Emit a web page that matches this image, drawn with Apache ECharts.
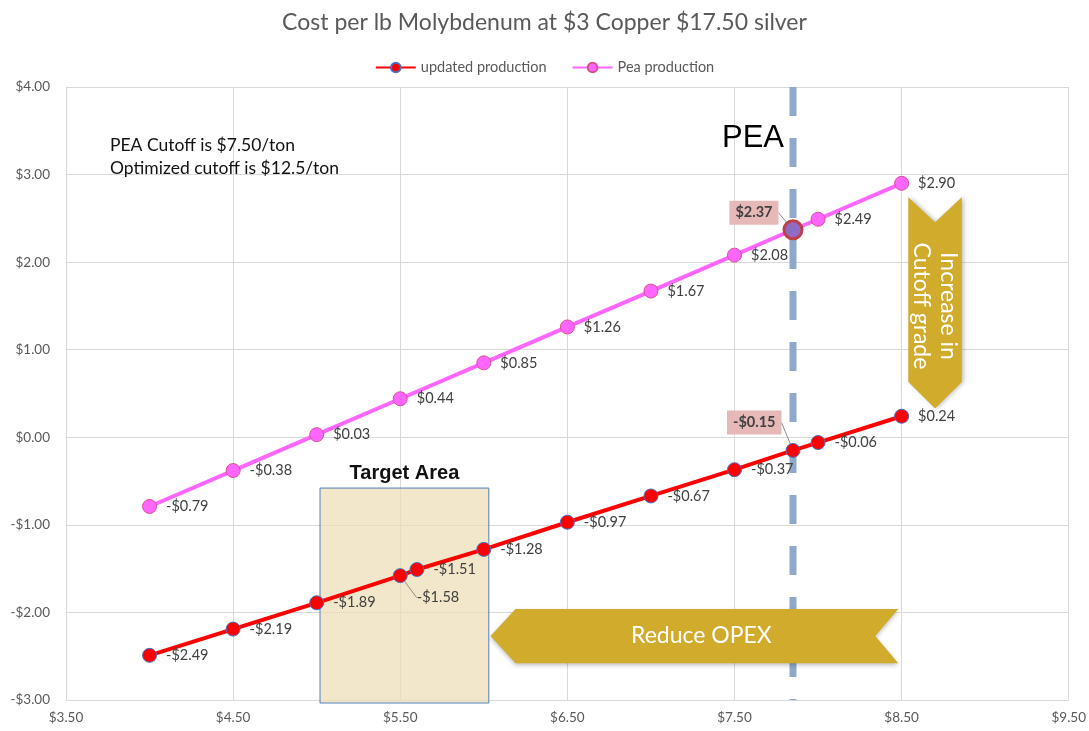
<!DOCTYPE html>
<html>
<head>
<meta charset="utf-8">
<script src="https://cdn.jsdelivr.net/npm/echarts@6/dist/echarts.min.js"></script>
<style>
html, body { margin: 0; padding: 0; background: #fff; }
#main { width: 1089px; height: 731px; }
</style>
</head>
<body>
<div id="main"></div>
<script>
// cutoff ($/ton) vs cost per lb Mo
var updatedX = [4, 4.5, 5, 5.5, 5.6, 6, 6.5, 7, 7.5, 7.85, 8, 8.5];
var updatedCost = [-2.49, -2.19, -1.89, -1.58, -1.51, -1.28, -0.97, -0.67, -0.37, -0.15, -0.06, 0.24];
var peaX = [4, 4.5, 5, 5.5, 6, 6.5, 7, 7.5, 7.85, 8, 8.5];
var peaCost = [-0.79, -0.38, 0.03, 0.44, 0.85, 1.26, 1.67, 2.08, 2.37, 2.49, 2.90];
var peaCutoff = 7.85;

var FONT = 'Lato, "Open Sans", sans-serif';

function money(v) {
    return (v < 0 ? '-$' : '$') + Math.abs(v).toFixed(2);
}

var calloutLabel = {
    position: 'left',
    distance: 4,
    backgroundColor: '#E6B9B8',
    fontWeight: 'bold',
    color: '#404040',
    padding: [5, 6, 4, 6]
};

var updatedData = updatedX.map(function (x, i) {
    var item = { value: [x, updatedCost[i]] };
    if (x === peaCutoff) {
        item.label = calloutLabel;
        item.labelLine = { show: true };
    }
    if (x === 5.5) {
        item.labelLine = { show: true };
    }
    return item;
});
var peaData = peaX.map(function (x, i) {
    var item = { value: [x, peaCost[i]] };
    if (x === peaCutoff) {
        item.label = calloutLabel;
        item.labelLine = { show: true };
        item.symbolSize = 18;
        item.itemStyle = { color: '#8E6CC4', borderColor: '#C0404A', borderWidth: 3 };
    }
    return item;
});

var myChart = echarts.init(document.getElementById('main'));

myChart.setOption({
    animation: false,
    title: {
        text: 'Cost per lb Molybdenum at $3 Copper $17.50 silver',
        left: 'center',
        top: 6,
        textStyle: { fontFamily: FONT, fontSize: 23, fontWeight: 'normal', color: '#595959' }
    },
    legend: {
        top: 55,
        left: 'center',
        itemWidth: 40,
        itemHeight: 12,
        itemGap: 25,
        textStyle: { fontFamily: FONT, fontSize: 14.5, color: '#595959' },
        data: ['updated production', 'Pea production']
    },
    grid: { left: 66, right: 16, top: 87, bottom: 31 },
    xAxis: {
        type: 'value',
        min: 3.5,
        max: 9.5,
        interval: 1,
        axisLine: { show: true, lineStyle: { color: '#D9D9D9' } },
        axisTick: { show: false },
        splitLine: { show: true, lineStyle: { color: '#D9D9D9' } },
        axisLabel: { formatter: money, color: '#595959', fontFamily: FONT, fontSize: 13.5, margin: 11 }
    },
    yAxis: {
        type: 'value',
        min: -3,
        max: 4,
        interval: 1,
        axisLine: { show: true, lineStyle: { color: '#D9D9D9' } },
        axisTick: { show: false },
        splitLine: { show: true, lineStyle: { color: '#D9D9D9' } },
        axisLabel: { formatter: money, color: '#595959', fontFamily: FONT, fontSize: 13.5, margin: 16 }
    },
    series: [
        {
            name: 'updated production',
            type: 'line',
            data: updatedData,
            z: 3,
            symbol: 'circle',
            symbolSize: 14,
            lineStyle: { color: '#FF0000', width: 4 },
            itemStyle: { color: '#FF0000', borderColor: '#4472C4', borderWidth: 1 },
            label: {
                show: true,
                position: 'right',
                distance: 9,
                formatter: function (p) { return money(p.value[1]); },
                fontFamily: FONT,
                fontSize: 14.5,
                color: '#404040'
            },
            labelLine: { lineStyle: { color: '#8C8C8C', width: 1 } },
            labelLayout: function (p) {
                var x = updatedX[p.dataIndex];
                if (x === peaCutoff) return { dy: -28 };
                if (x === 5.5) return { dy: 22, dx: 0 };
                return {};
            }
        },
        {
            name: 'Pea production',
            type: 'line',
            data: peaData,
            z: 3,
            symbol: 'circle',
            symbolSize: 14,
            lineStyle: { color: '#FF66FF', width: 4 },
            itemStyle: { color: '#FF66FF', borderColor: '#D9508E', borderWidth: 1 },
            label: {
                show: true,
                position: 'right',
                distance: 9,
                formatter: function (p) { return money(p.value[1]); },
                fontFamily: FONT,
                fontSize: 14.5,
                color: '#404040'
            },
            labelLine: { lineStyle: { color: '#8C8C8C', width: 1 } },
            labelLayout: function (p) {
                if (peaX[p.dataIndex] === peaCutoff) return { dy: -17 };
                return {};
            }
        }
    ]
});

// annotations (in data units)
var targetBox = [[5.02, -0.58], [6.03, -3.0]];
var opexArrow = [[6.04, -1.96], [8.48, -2.58]];
var cutoffArrow = [[8.54, 2.74], [8.86, 0.63]];
var cutoffTipY = 0.33;

function px(p) { return myChart.convertToPixel({ gridIndex: 0 }, p); }

var tb0 = px(targetBox[0]), tb1 = px(targetBox[1]);
var oa0 = px(opexArrow[0]), oa1 = px(opexArrow[1]);
var ca0 = px(cutoffArrow[0]), ca1 = px(cutoffArrow[1]);
var cTip = px([cutoffArrow[0][0], cutoffTipY]);
var peaTop = px([peaCutoff, 4]), peaBot = px([peaCutoff, -3]);
var oMid = (oa0[1] + oa1[1]) / 2, cMid = (ca0[0] + ca1[0]) / 2;
var gold = '#D1AB2C';

myChart.setOption({
    graphic: [
        {
            type: 'rect', z: 1, silent: true,
            shape: { x: tb0[0], y: tb0[1], width: tb1[0] - tb0[0], height: tb1[1] - tb0[1] + 3 },
            style: { fill: 'rgba(236,221,180,0.7)', stroke: '#4F81BD', lineWidth: 1 }
        },
        {
            type: 'text', z: 10, silent: true,
            x: (tb0[0] + tb1[0]) / 2, y: tb0[1] - 15,
            style: { text: 'Target Area', fill: '#111', font: 'bold 20px "Liberation Sans", Arial', align: 'center', verticalAlign: 'middle' }
        },
        {
            type: 'line', z: 2, silent: true,
            shape: { x1: peaTop[0], y1: peaTop[1], x2: peaBot[0], y2: peaBot[1] },
            style: { stroke: '#8EA9CC', lineWidth: 7, lineDash: [29, 22] }
        },
        {
            type: 'text', z: 10, silent: true,
            x: peaTop[0] - 40, y: peaTop[1] + 51,
            style: { text: 'PEA', fill: '#000', font: '31px "Liberation Sans", Arial', align: 'center', verticalAlign: 'middle' }
        },
        {
            type: 'text', z: 10, silent: true,
            x: 110, y: 157,
            style: { text: 'PEA Cutoff is $7.50/ton\nOptimized cutoff is $12.5/ton', fill: '#111', font: '17.5px ' + FONT, lineHeight: 23, verticalAlign: 'middle' }
        },
        {
            type: 'polygon', z: 20, silent: true,
            shape: { points: [
                [oa0[0], oMid], [oa0[0] + 25, oa0[1]], [oa1[0], oa0[1]],
                [oa1[0] - 23, oMid], [oa1[0], oa1[1]], [oa0[0] + 25, oa1[1]]
            ] },
            style: { fill: gold, shadowBlur: 4, shadowColor: 'rgba(0,0,0,0.25)', shadowOffsetY: 2 }
        },
        {
            type: 'text', z: 21, silent: true,
            x: (oa0[0] + oa1[0]) / 2 + 7, y: oMid,
            style: { text: 'Reduce OPEX', fill: '#fff', font: '23px ' + FONT, align: 'center', verticalAlign: 'middle' }
        },
        {
            type: 'polygon', z: 20, silent: true,
            shape: { points: [
                [ca0[0], ca0[1]], [cMid, ca0[1] + 25], [ca1[0], ca0[1]],
                [ca1[0], ca1[1]], [cMid, cTip[1]], [ca0[0], ca1[1]]
            ] },
            style: { fill: gold, shadowBlur: 4, shadowColor: 'rgba(0,0,0,0.25)', shadowOffsetX: 2 }
        },
        {
            type: 'text', z: 21, silent: true,
            x: cMid, y: 306,
            rotation: -Math.PI / 2,
            style: { text: 'Increase in\nCutoff grade', fill: '#fff', font: '23px ' + FONT, lineHeight: 27, align: 'center', verticalAlign: 'middle' }
        }
    ]
});
</script>
</body>
</html>
